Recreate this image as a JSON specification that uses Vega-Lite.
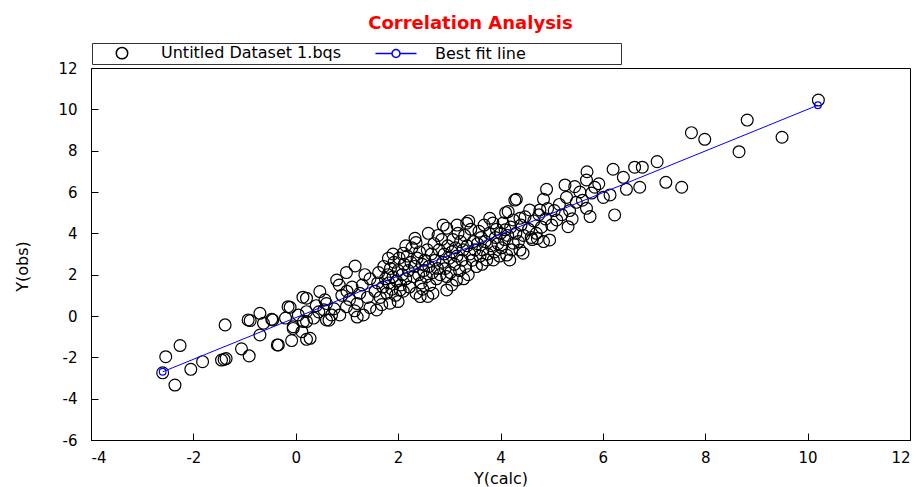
{
  "$schema": "https://vega.github.io/schema/vega-lite/v6.json",
  "width": 819,
  "height": 372,
  "autosize": {"type": "none"},
  "padding": {"left": 91, "top": 68, "right": 10, "bottom": 47},
  "background": "white",
  "title": {
    "text": "Correlation Analysis",
    "color": "#ff0000",
    "font": "DejaVu Sans",
    "fontSize": 18,
    "fontWeight": "bold",
    "anchor": "middle",
    "dx": -30,
    "offset": 10
  },
  "config": {
    "view": {"stroke": "black", "strokeWidth": 1},
    "axis": {
      "grid": false,
      "domainColor": "black",
      "tickColor": "black",
      "tickSize": -7,
      "labelColor": "black",
      "labelFont": "DejaVu Sans",
      "labelFontSize": 15,
      "labelExpr": "'' + datum.value",
      "titleFont": "DejaVu Sans",
      "titleFontSize": 16,
      "titleFontWeight": "normal",
      "titleColor": "black"
    },
    "legend": {
      "title": null,
      "orient": "none",
      "legendX": 1,
      "legendY": -25,
      "direction": "horizontal",
      "columns": 3,
      "padding": 2,
      "strokeColor": "#333333",
      "symbolSize": 130,
      "symbolOffset": 20,
      "labelOffset": 31,
      "columnPadding": 26,
      "labelFont": "DejaVu Sans",
      "labelFontSize": 16,
      "labelLimit": 400,
      "labelColor": "black"
    }
  },
  "datasets": {
    "pts": [
      {"x":-2.60,"y":-2.75},{"x":-2.54,"y":-1.97},{"x":-2.26,"y":-1.43},{"x":-2.36,"y":-3.34},{"x":-2.05,"y":-2.58},{"x":-1.82,"y":-2.21},{"x":-1.45,"y":-2.13},{"x":-1.36,"y":-2.06},{"x":-1.40,"y":-2.10},{"x":-1.06,"y":-1.59},{"x":-1.38,"y":-0.43},
      {"x":-0.91,"y":-1.93},{"x":-0.93,"y":-0.19},{"x":-0.89,"y":-0.22},{"x":-0.70,"y":0.13},{"x":-0.63,"y":-0.35},{"x":-0.47,"y":-0.16},{"x":-0.45,"y":-0.19},{"x":-0.70,"y":-0.92},{"x":-0.36,"y":-1.40},{"x":-0.34,"y":-1.40},{"x":-0.11,"y":0.42},{"x":-0.15,"y":0.45},{"x":0.14,"y":0.91},{"x":-0.05,"y":-0.52},{"x":-0.08,"y":-1.19},{"x":0.12,"y":-0.76},{"x":0.21,"y":-1.13},{"x":0.21,"y":-0.27},{"x":-0.05,"y":-0.60},{"x":0.60,"y":-0.19},{"x":0.21,"y":0.21},{"x":0.15,"y":-0.27},{"x":0.28,"y":-1.08},{"x":0.21,"y":0.86},{"x":0.05,"y":0.05},{"x":0.35,"y":-0.10},{"x":0.40,"y":0.50},{"x":-0.20,"y":-0.10},{"x":0.45,"y":0.20},
      {"x":0.47,"y":1.18},{"x":0.57,"y":0.78},{"x":0.70,"y":0.05},{"x":0.86,"y":0.05},{"x":0.99,"y":0.45},{"x":0.80,"y":1.74},{"x":0.99,"y":2.10},{"x":1.16,"y":2.42},{"x":1.32,"y":0.05},{"x":0.60,"y":0.60},{"x":0.75,"y":0.35},{"x":0.90,"y":1.00},{"x":1.05,"y":0.80},{"x":1.10,"y":1.40},{"x":1.20,"y":0.60},{"x":1.25,"y":1.10},{"x":1.30,"y":1.50},{"x":1.40,"y":0.90},{"x":1.45,"y":1.80},{"x":1.00,"y":1.20},{"x":0.65,"y":-0.20},{"x":0.85,"y":1.50},{"x":1.15,"y":0.25},{"x":1.35,"y":2.00},{"x":1.45,"y":0.40},{"x":0.55,"y":0.30},{"x":1.20,"y":-0.05},
      {"x":1.58,"y":0.29},{"x":1.84,"y":0.62},{"x":1.81,"y":2.79},{"x":2.04,"y":1.26},{"x":2.10,"y":3.04},{"x":2.33,"y":3.76},{"x":2.43,"y":0.94},{"x":1.55,"y":1.20},{"x":1.60,"y":1.60},{"x":1.62,"y":2.10},{"x":1.65,"y":0.90},{"x":1.70,"y":1.40},{"x":1.72,"y":2.40},{"x":1.75,"y":1.80},{"x":1.78,"y":1.10},{"x":1.80,"y":2.00},{"x":1.82,"y":1.60},{"x":1.85,"y":2.30},{"x":1.88,"y":1.30},{"x":1.90,"y":1.90},{"x":1.92,"y":2.60},{"x":1.95,"y":1.00},{"x":1.97,"y":1.70},{"x":2.00,"y":2.20},{"x":2.02,"y":2.80},{"x":2.05,"y":1.50},{"x":2.08,"y":2.00},{"x":2.10,"y":1.20},{"x":2.12,"y":2.50},{"x":2.15,"y":1.80},{"x":2.18,"y":2.90},{"x":2.20,"y":2.20},{"x":2.22,"y":1.40},{"x":2.25,"y":2.60},{"x":2.27,"y":3.30},{"x":2.30,"y":1.90},{"x":2.32,"y":2.40},{"x":2.35,"y":1.10},{"x":2.37,"y":2.80},{"x":2.40,"y":2.00},{"x":2.42,"y":3.10},{"x":2.45,"y":1.60},{"x":2.47,"y":2.50},{"x":2.50,"y":2.20},{"x":1.68,"y":0.55},{"x":2.00,"y":0.70},{"x":2.15,"y":3.40},{"x":1.90,"y":3.00},{"x":2.35,"y":3.55},{"x":2.48,"y":1.30},
      {"x":2.59,"y":4.00},{"x":2.95,"y":4.25},{"x":3.34,"y":4.49},{"x":2.95,"y":1.91},{"x":3.14,"y":1.74},{"x":2.95,"y":1.26},{"x":2.52,"y":2.70},{"x":2.55,"y":1.90},{"x":2.57,"y":3.20},{"x":2.60,"y":2.40},{"x":2.62,"y":1.50},{"x":2.65,"y":3.00},{"x":2.67,"y":2.10},{"x":2.70,"y":3.50},{"x":2.72,"y":2.70},{"x":2.75,"y":1.80},{"x":2.77,"y":2.30},{"x":2.80,"y":3.20},{"x":2.82,"y":2.00},{"x":2.85,"y":3.70},{"x":2.87,"y":2.60},{"x":2.90,"y":3.00},{"x":2.92,"y":2.30},{"x":2.97,"y":3.40},{"x":3.00,"y":2.80},{"x":3.02,"y":2.10},{"x":3.05,"y":3.10},{"x":3.07,"y":3.70},{"x":3.10,"y":2.50},{"x":3.12,"y":3.30},{"x":3.15,"y":2.90},{"x":3.17,"y":4.00},{"x":3.20,"y":2.20},{"x":3.22,"y":3.60},{"x":3.25,"y":2.70},{"x":3.27,"y":3.20},{"x":3.30,"y":3.90},{"x":3.32,"y":2.40},{"x":3.35,"y":3.40},{"x":3.37,"y":2.00},{"x":3.40,"y":3.00},{"x":3.42,"y":4.20},{"x":3.45,"y":2.70},{"x":3.47,"y":3.60},{"x":3.50,"y":3.20},{"x":2.68,"y":1.10},{"x":2.88,"y":4.40},{"x":3.05,"y":1.50},{"x":3.28,"y":1.80},{"x":2.78,"y":3.90},{"x":3.15,"y":4.40},{"x":2.58,"y":0.95},{"x":3.38,"y":4.60},
      {"x":3.53,"y":2.39},{"x":3.79,"y":4.73},{"x":3.86,"y":2.71},{"x":4.18,"y":2.71},{"x":4.44,"y":3.04},{"x":4.15,"y":5.05},{"x":4.28,"y":5.61},{"x":4.38,"y":4.73},{"x":4.09,"y":4.17},{"x":4.25,"y":3.52},{"x":4.12,"y":2.95},{"x":4.38,"y":3.19},{"x":3.73,"y":2.71},{"x":4.25,"y":4.65},{"x":4.31,"y":5.65},{"x":3.55,"y":3.50},{"x":3.58,"y":4.10},{"x":3.60,"y":2.90},{"x":3.62,"y":3.80},{"x":3.65,"y":3.20},{"x":3.68,"y":4.40},{"x":3.70,"y":3.60},{"x":3.75,"y":3.00},{"x":3.78,"y":4.00},{"x":3.82,"y":3.40},{"x":3.85,"y":4.50},{"x":3.88,"y":3.10},{"x":3.90,"y":3.80},{"x":3.92,"y":4.20},{"x":3.95,"y":3.50},{"x":3.98,"y":2.90},{"x":4.00,"y":4.00},{"x":4.02,"y":3.30},{"x":4.05,"y":4.50},{"x":4.08,"y":3.70},{"x":4.14,"y":3.90},{"x":4.20,"y":4.30},{"x":4.22,"y":3.20},{"x":4.30,"y":4.00},{"x":4.35,"y":3.60},{"x":4.40,"y":4.40},{"x":4.45,"y":3.90},{"x":4.48,"y":4.80},{"x":3.64,"y":2.50},{"x":4.10,"y":5.00},
      {"x":4.57,"y":5.13},{"x":4.77,"y":5.13},{"x":4.84,"y":5.65},{"x":4.90,"y":6.13},{"x":4.96,"y":3.68},{"x":4.84,"y":3.60},{"x":5.10,"y":4.65},{"x":5.32,"y":4.32},{"x":5.26,"y":6.34},{"x":5.45,"y":6.26},{"x":5.29,"y":5.74},{"x":4.55,"y":4.20},{"x":4.60,"y":3.80},{"x":4.65,"y":4.60},{"x":4.70,"y":4.00},{"x":4.75,"y":4.90},{"x":4.80,"y":4.30},{"x":4.88,"y":4.70},{"x":4.92,"y":5.20},{"x":5.00,"y":4.40},{"x":5.05,"y":5.10},{"x":5.15,"y":5.40},{"x":5.20,"y":4.90},{"x":5.35,"y":5.10},{"x":5.40,"y":4.70},{"x":5.48,"y":5.50},{"x":4.62,"y":3.70},{"x":4.72,"y":3.75},
      {"x":5.69,"y":6.98},{"x":5.68,"y":6.58},{"x":5.68,"y":5.21},{"x":5.75,"y":4.81},{"x":6.23,"y":4.89},{"x":5.84,"y":6.23},{"x":6.01,"y":5.74},{"x":6.14,"y":5.86},{"x":6.46,"y":6.13},{"x":6.72,"y":6.23},{"x":6.40,"y":6.71},{"x":6.20,"y":7.10},{"x":6.62,"y":7.20},{"x":6.77,"y":7.20},{"x":7.06,"y":7.47},{"x":7.23,"y":6.47},{"x":7.54,"y":6.23},{"x":7.73,"y":8.87},{"x":7.99,"y":8.55},{"x":8.66,"y":7.95},{"x":8.82,"y":9.48},{"x":9.50,"y":8.65},{"x":10.21,"y":10.45},{"x":5.60,"y":5.60},{"x":5.55,"y":6.00},{"x":5.78,"y":5.95},{"x":5.92,"y":6.40}
    ],
    "fit": [
      {"x":-2.60,"y":-2.70},
      {"x":10.20,"y":10.20}
    ]
  },
  "layer": [
    {
      "data": {"name": "pts"},
      "mark": {"type": "point", "filled": false, "size": 140, "strokeWidth": 1.2, "opacity": 1},
      "encoding": {
        "x": {"field": "x", "type": "quantitative", "title": "Y(calc)",
          "scale": {"domain": [-4, 12], "nice": false, "zero": false},
          "axis": {"values": [-4,-2,0,2,4,6,8,10,12], "labelPadding": 17, "titlePadding": 5}},
        "y": {"field": "y", "type": "quantitative", "title": "Y(obs)",
          "scale": {"domain": [-6, 12], "nice": false, "zero": false},
          "axis": {"values": [-6,-4,-2,0,2,4,6,8,10,12], "labelPadding": 21, "titleX": -69, "titleY": 198, "titleAngle": -90, "titleAlign": "center", "titleBaseline": "middle"}},
        "color": {"datum": "Untitled Dataset 1.bqs", "type": "nominal",
          "scale": {"domain": ["Untitled Dataset 1.bqs", "Best fit line", "\u00a0\u00a0\u00a0\u00a0\u00a0\u00a0\u00a0\u00a0\u00a0\u00a0\u00a0\u00a0\u00a0\u00a0"], "range": ["black", "blue", "transparent"]},
          "legend": {"encode": {"legend": {"strokeWidth": {"value": 1.5}}}}
        },
        "shape": {"datum": "Untitled Dataset 1.bqs", "type": "nominal",
          "scale": {"domain": ["Untitled Dataset 1.bqs", "Best fit line", "\u00a0\u00a0\u00a0\u00a0\u00a0\u00a0\u00a0\u00a0\u00a0\u00a0\u00a0\u00a0\u00a0\u00a0"], "range": ["circle", "M-3.6,0H-0.7M0.7,0H3.6M-0.7,0A0.7,0.7 0 1,0 0.7,0A0.7,0.7 0 1,0 -0.7,0", "circle"]},
          "legend": {"encode": {"legend": {"strokeWidth": {"value": 1.5}}}}
        }
      }
    },
    {
      "data": {"name": "fit"},
      "mark": {"type": "line", "strokeWidth": 1, "color": "blue"},
      "encoding": {
        "x": {"field": "x", "type": "quantitative"},
        "y": {"field": "y", "type": "quantitative"}
      }
    },
    {
      "data": {"name": "fit"},
      "mark": {"type": "point", "shape": "circle", "filled": false, "size": 45, "strokeWidth": 1.2, "opacity": 1, "color": "blue"},
      "encoding": {
        "x": {"field": "x", "type": "quantitative"},
        "y": {"field": "y", "type": "quantitative"}
      }
    }
  ]
}
